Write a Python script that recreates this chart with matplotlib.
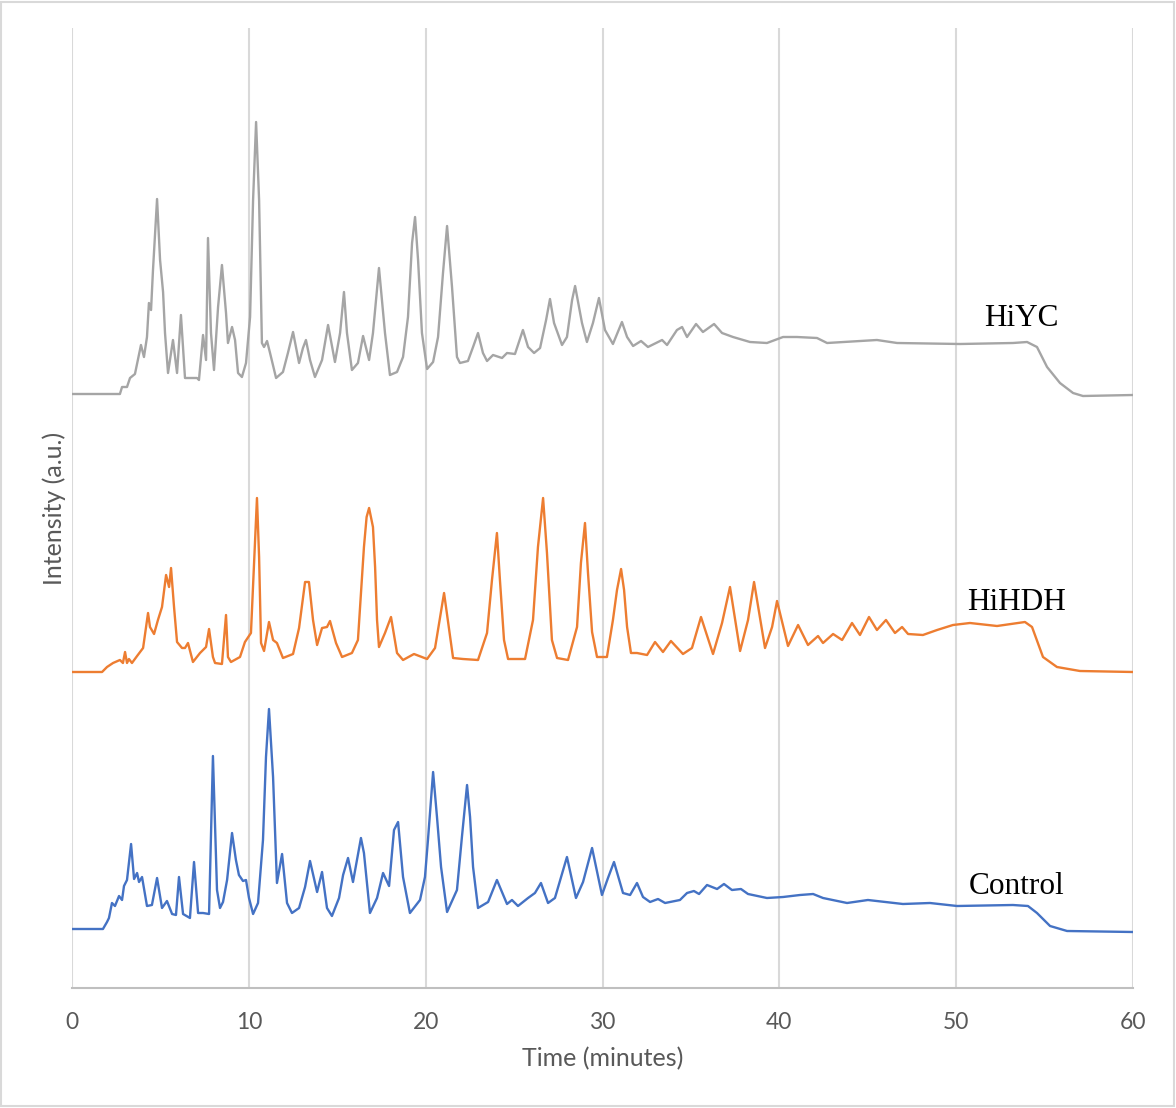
import matplotlib.pyplot as plt
from matplotlib.patches import Rectangle

# traces (time in minutes, intensity in a.u. above own baseline)
hiyc_time = [0.00, 2.71, 2.83, 3.11, 3.28, 3.56, 3.90, 4.07, 4.24, 4.35, 4.47, 4.58, 4.81, 4.98, 5.15, 5.26,
             5.43, 5.71, 5.94, 6.16, 6.39, 7.07, 7.18, 7.41, 7.58, 7.69, 7.86, 8.03, 8.26, 8.48, 8.71, 8.82,
             9.05, 9.22, 9.39, 9.61, 9.84, 10.07, 10.24, 10.41, 10.58, 10.74, 10.86, 11.03, 11.20, 11.54,
             11.93, 12.21, 12.50, 12.84, 13.06, 13.23, 13.46, 13.74, 14.14, 14.36, 14.48, 14.87, 15.16,
             15.38, 15.55, 15.83, 16.17, 16.46, 16.80, 17.02, 17.36, 17.70, 17.98, 18.38, 18.72, 19.00,
             19.23, 19.40, 19.57, 19.79, 20.08, 20.42, 20.70, 20.98, 21.21, 21.49, 21.77, 21.94, 22.39,
             22.68, 22.96, 23.24, 23.47, 23.81, 24.32, 24.60, 25.05, 25.50, 25.79, 26.13, 26.47, 26.81,
             27.03, 27.26, 27.71, 27.99, 28.28, 28.45, 28.84, 29.12, 29.46, 29.80, 30.14, 30.59, 31.10,
             31.39, 31.73, 32.18, 32.57, 33.37, 33.65, 34.21, 34.50, 34.78, 35.29, 35.68, 36.31, 36.76,
             37.38, 38.34, 39.30, 40.21, 41.00, 42.13, 42.70, 45.52, 46.66, 50.22, 53.21, 54.01, 54.57,
             55.14, 55.87, 56.61, 57.17, 60.00]
hiyc_int = [0.0, 0.0, 0.7, 0.7, 1.6, 2.0, 4.9, 3.7, 5.7, 9.1, 8.4, 12.4, 19.5, 13.4, 10.2, 6.1,
            2.1, 5.4, 2.1, 7.9, 1.6, 1.6, 1.4, 5.9, 3.4, 15.6, 6.1, 2.4, 8.7, 12.9, 8.1, 5.1,
            6.7, 5.4, 2.1, 1.7, 3.1, 7.7, 19.4, 27.2, 19.4, 5.1, 4.7, 5.3, 4.1, 1.6,
            2.2, 4.1, 6.2, 3.1, 4.6, 5.4, 3.4, 1.7, 3.4, 5.7, 6.9, 3.2, 6.1,
            10.2, 6.1, 2.4, 3.1, 5.8, 3.4, 6.1, 12.6, 6.1, 1.9, 2.2, 3.7, 7.7,
            15.1, 17.7, 13.4, 6.1, 2.5, 3.2, 5.7, 12.1, 16.8, 10.7, 3.7, 3.1, 3.3,
            4.7, 6.1, 4.1, 3.3, 3.9, 3.6, 4.1, 4.0, 6.4, 4.7, 4.1, 4.6, 7.4,
            9.5, 7.1, 4.9, 5.7, 9.4, 10.8, 7.1, 5.2, 7.1, 9.6, 6.4, 5.0, 7.2,
            5.7, 4.8, 5.3, 4.7, 5.4, 4.9, 6.4, 6.7, 5.7, 7.0, 6.2, 7.0, 6.1,
            5.7, 5.2, 5.1, 5.7, 5.7, 5.6, 5.1, 5.4, 5.1, 5.0, 5.1, 5.2, 4.7,
            2.7, 1.1, 0.1, -0.2, -0.1]

hihdh_time = [0.00, 1.70, 1.98, 2.32, 2.71, 2.88, 3.00, 3.11, 3.22, 3.39, 3.68, 4.02, 4.30, 4.41, 4.64,
              4.86, 5.09, 5.32, 5.49, 5.60, 5.77, 5.94, 6.22, 6.39, 6.56, 6.84, 7.24, 7.58, 7.75, 7.97,
              8.09, 8.48, 8.71, 8.82, 8.99, 9.50, 9.78, 10.12, 10.46, 10.58, 10.69, 10.86, 11.14, 11.37,
              11.59, 11.93, 12.50, 12.84, 13.18, 13.40, 13.63, 13.86, 14.14, 14.42, 14.59, 14.93, 15.27,
              15.83, 16.17, 16.51, 16.66, 16.80, 17.02, 17.14, 17.25, 17.36, 17.70, 18.04, 18.38, 18.72,
              19.34, 20.08,
              20.53, 21.04, 21.55, 22.11, 22.96, 23.47, 23.75, 24.03, 24.20, 24.43, 24.66, 25.62, 26.07,
              26.35, 26.64, 26.86, 27.14,
              27.43, 28.05, 28.56, 28.78, 29.01, 29.18, 29.41, 29.69, 30.25, 30.59, 30.82, 31.05, 31.22,
              31.39, 31.61, 31.95, 32.52,
              32.97, 33.42, 33.87, 34.55, 35.06, 35.57, 36.25, 36.76, 37.21, 37.78, 38.23, 38.57, 39.19,
              39.59, 39.87, 40.49, 41.06, 41.62, 42.19, 42.47, 43.04, 43.55, 44.11, 44.56, 45.07, 45.52,
              46.03, 46.54, 46.94, 47.28, 48.12, 48.92, 49.82, 50.78, 52.31, 53.89, 54.29, 54.91, 55.70,
              57.00, 60.00]
hihdh_int = [0.0, 0.0, 0.5, 0.9, 1.2, 0.9, 2.0, 0.9, 1.3, 0.9, 1.6, 2.4, 5.9, 4.5, 3.8,
             5.2, 6.5, 9.7, 8.5, 10.4, 6.5, 3.0, 2.4, 2.4, 2.9, 1.0, 1.9, 2.5, 4.3, 1.5,
             0.9, 0.8, 5.7, 1.5, 1.0, 1.5, 3.0, 3.9, 17.4, 11.5, 2.9, 2.1, 5.0, 3.2,
             2.9, 1.4, 1.8, 4.4, 9.0, 9.0, 5.2, 2.7, 4.4, 4.5, 5.1, 2.9, 1.5,
             1.9, 3.2, 12.5, 15.5, 16.4, 14.5, 10.5, 5.2, 2.5, 3.9, 5.5, 1.9, 1.2,
             1.8, 1.3,
             2.4, 7.9, 1.4, 1.3, 1.2, 3.9, 9.2, 13.9, 9.2, 3.2, 1.3, 1.3, 5.2,
             12.5, 17.4, 11.9, 3.2,
             1.4, 1.2, 4.5, 10.9, 14.9, 9.9, 4.0, 1.5, 1.5, 5.2, 8.2, 10.3, 8.2,
             4.5, 1.9, 1.9, 1.7,
             3.0, 2.0, 3.1, 1.8, 2.4, 5.5, 1.8, 4.9, 8.5, 2.1, 5.2, 9.0, 2.4,
             4.5, 7.1, 2.6, 4.7, 2.7, 3.6, 2.9, 3.8, 3.2, 4.9, 3.7, 5.5, 4.2,
             5.2, 3.9, 4.5, 3.8, 3.7, 4.2, 4.7, 4.9, 4.6, 5.0, 4.5, 1.5, 0.5,
             0.1, 0.0]

control_time = [0.00, 1.75, 1.98, 2.09, 2.26, 2.43, 2.66, 2.83, 2.94, 3.11, 3.34, 3.51, 3.68, 3.79, 3.96,
                4.24, 4.52, 4.81, 5.09, 5.37, 5.66, 5.88, 6.05, 6.28, 6.67, 6.90, 7.13, 7.41, 7.75, 7.97,
                8.20, 8.37, 8.54, 8.77, 9.05, 9.27, 9.44, 9.67, 9.84, 10.01, 10.24, 10.52, 10.80, 10.97, 11.14,
                11.37, 11.59, 11.88, 12.16, 12.44, 12.84, 13.18, 13.46, 13.86, 14.14, 14.42, 14.70, 15.10,
                15.33, 15.61, 15.89, 16.34, 16.51, 16.85, 17.25, 17.59, 17.93, 18.21, 18.44, 18.72, 19.11,
                19.68, 19.96, 20.13, 20.42, 20.64, 20.87, 21.21, 21.77, 22.05, 22.34, 22.51, 22.68, 22.96,
                23.53, 24.03,
                24.60, 24.88, 25.22, 25.79, 26.18, 26.52, 26.92, 27.31, 27.99, 28.50, 28.90, 29.41, 29.97,
                30.31, 30.65, 31.16, 31.56, 31.95, 32.29, 32.69, 33.14, 33.54, 34.38, 34.78, 35.17, 35.46,
                35.91, 36.48, 36.87, 37.32, 37.83, 38.23, 39.30, 40.21, 41.17, 41.91, 42.47, 43.83, 45.01,
                46.99, 48.52, 50.05, 53.21, 54.06, 54.57, 55.31, 56.27, 60.00]
control_int = [0.0, 0.0, 0.7, 1.1, 2.6, 2.3, 3.3, 2.9, 4.3, 4.9, 8.5, 5.0, 5.6, 4.7, 5.2,
               2.3, 2.4, 5.1, 2.1, 2.8, 1.5, 1.4, 5.2, 1.5, 1.1, 6.7, 1.6, 1.6, 1.5, 17.3,
               3.9, 2.1, 2.7, 4.9, 9.6, 6.9, 5.4, 4.8, 4.9, 3.1, 1.5, 2.6, 8.9, 17.2, 22.0,
               15.2, 4.6, 7.5, 2.6, 1.6, 2.1, 4.2, 6.8, 3.7, 5.7, 2.1, 1.3, 3.1,
               5.4, 7.1, 4.7, 9.1, 7.6, 1.6, 3.1, 5.6, 4.3, 9.9, 10.7, 5.2, 1.6,
               2.9, 5.2, 8.9, 15.7, 11.2, 6.2, 1.7, 3.9, 9.2, 14.4, 11.2, 6.2, 2.1,
               2.7, 4.9,
               2.5, 2.9, 2.3, 3.1, 3.6, 4.6, 2.6, 3.1, 7.2, 3.1, 4.7, 8.1, 3.4,
               5.1, 6.7, 3.6, 3.4, 4.6, 3.2, 2.7, 3.0, 2.6, 2.9, 3.6, 3.8, 3.5,
               4.4, 4.0, 4.5, 3.9, 4.0, 3.5, 3.1, 3.2, 3.4, 3.5, 3.1, 2.6, 2.9,
               2.5, 2.6, 2.3, 2.4, 2.3, 1.6, 0.3, -0.2, -0.3]

series_names = ['HiYC', 'HiHDH', 'Control']
x_ticks = [0, 10, 20, 30, 40, 50, 60]

plt.rcParams['font.family'] = ['Lato', 'DejaVu Sans']

fig = plt.figure(figsize=(11.76, 11.08), dpi=100)
ax = fig.add_axes([72 / 1176, 120 / 1108, 1061 / 1176, 960 / 1108])

# stacked: each trace sits on its own baseline
line_kw = dict(lw=1.7, solid_joinstyle='round', solid_capstyle='round')
ax.plot(hiyc_time, [v + 59.4 for v in hiyc_int], color='#A5A5A5', **line_kw)
ax.plot(hihdh_time, [v + 31.6 for v in hihdh_int], color='#ED7D31', **line_kw)
ax.plot(control_time, [v + 5.9 for v in control_int], color='#4472C4', **line_kw)

lbl_font = dict(family='Liberation Serif', fontsize=22.5, color='black', ha='center', va='center')
ax.text(53.7, 67.0, series_names[0], **lbl_font)
ax.text(53.4, 38.5, series_names[1], **lbl_font)
ax.text(53.4, 10.1, series_names[2], **lbl_font)

ax.set_xlim(0, 60)
ax.set_ylim(0, 96)
ax.set_xticks(x_ticks)
ax.set_yticks([])
ax.tick_params(axis='x', length=0, pad=17, labelsize=16.5, labelcolor='#595959')
ax.grid(axis='x', color='#D9D9D9', lw=1.5)
ax.set_axisbelow(True)
for s in ['top', 'right', 'left']:
    ax.spines[s].set_visible(False)
ax.spines['bottom'].set_color('#BFBFBF')
ax.spines['bottom'].set_linewidth(1.5)

ax.set_xlabel('Time (minutes)', fontsize=18, color='#595959', labelpad=10)
ax.set_ylabel('Intensity (a.u.)', fontsize=18, color='#595959', labelpad=4)

# chart border like the spreadsheet frame
fig.patches.append(Rectangle((0.001, 0.002), 0.997, 0.996, transform=fig.transFigure,
                             fill=False, edgecolor='#D9D9D9', lw=1.5))

fig.savefig('out.png', dpi=100)
